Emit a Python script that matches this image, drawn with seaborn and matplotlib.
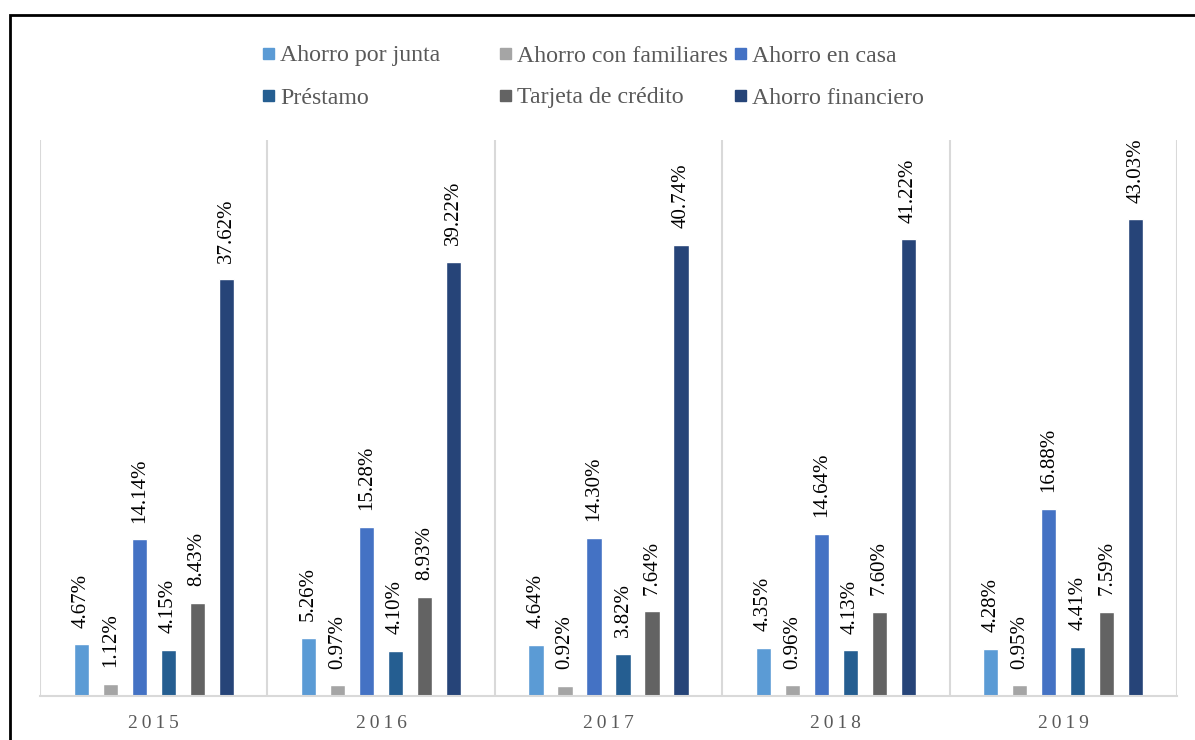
import matplotlib
matplotlib.use("Agg")
import matplotlib.pyplot as plt
import seaborn as sns
import pandas as pd
from matplotlib.patches import Rectangle

years = ["2015", "2016", "2017", "2018", "2019"]
series = ["Ahorro por junta", "Ahorro con familiares", "Ahorro en casa",
          "Préstamo", "Tarjeta de crédito", "Ahorro financiero"]
ahorro_junta = [4.67, 5.26, 4.64, 4.35, 4.28]
ahorro_familiares = [1.12, 0.97, 0.92, 0.96, 0.95]
ahorro_casa = [14.14, 15.28, 14.30, 14.64, 16.88]
prestamo = [4.15, 4.10, 3.82, 4.13, 4.41]
tarjeta = [8.43, 8.93, 7.64, 7.60, 7.59]
ahorro_financiero = [37.62, 39.22, 40.74, 41.22, 43.03]
colors = ["#5B9BD5", "#A5A5A5", "#4472C4", "#255E91", "#636363", "#264478"]

values = [ahorro_junta, ahorro_familiares, ahorro_casa, prestamo, tarjeta, ahorro_financiero]
rows = []
for s, vals in zip(series, values):
    for y, v in zip(years, vals):
        rows.append({"Año": y, "Serie": s, "Valor": v})
df = pd.DataFrame(rows)

sns.set_theme(style="white")
plt.rcParams["font.family"] = ["Liberation Serif", "DejaVu Serif"]

W, H = 1195, 740
fig = plt.figure(figsize=(W / 100, H / 100), dpi=100)
ax = fig.add_axes([40/W, 44/H, (1177-40)/W, (696-140)/H])

sns.barplot(data=df, x="Año", y="Valor", hue="Serie", hue_order=series,
            order=years, palette=colors, width=0.765, gap=0.48,
            saturation=1, ax=ax, legend=False)

for cont in ax.containers:
    ax.bar_label(cont, labels=[f"{v:.2f}%" for v in cont.datavalues],
                 rotation=90, padding=12, fontsize=15, color="black")

ax.set_ylim(0, 50.2)
ax.set_xlim(-0.5, 4.5)
ax.set_yticks([])
ax.set_ylabel("")
ax.set_xlabel("")
ax.set_xticks(range(len(years)))
ax.set_xticklabels(["\u2009".join(y) for y in years], fontsize=14, color="#595959")
ax.tick_params(axis="x", length=0, pad=14)
for sp in ["top", "left", "right"]:
    ax.spines[sp].set_visible(False)
ax.spines["bottom"].set_color("#D9D9D9")
ax.spines["bottom"].set_linewidth(1.5)
for b in [-0.5, 0.5, 1.5, 2.5, 3.5, 4.5]:
    ax.axvline(b, color="#D9D9D9", lw=1.5, zorder=0)

# legend: fixed-width columns, row-major order
col_x = [263, 500, 735]
row_y = [53.5, 95.5]
sq = 11
for i, (name, c) in enumerate(zip(series, colors)):
    x0 = col_x[i % 3]
    y0 = row_y[i // 3]
    fig.patches.append(Rectangle((x0 / W, 1 - (y0 + sq / 2) / H), sq / W, sq / H,
                                 transform=fig.transFigure, color=c))
    fig.text((x0 + 17) / W, 1 - y0 / H, name, fontsize=17.2, color="#595959",
             ha="left", va="center_baseline")

# outer frame
fig.patches.append(Rectangle((10/W, -0.1), 1.2, 1 - 15/H + 0.1, transform=fig.transFigure,
                             fill=False, edgecolor="black", lw=2, zorder=10))

fig.savefig("out.png", dpi=100)
